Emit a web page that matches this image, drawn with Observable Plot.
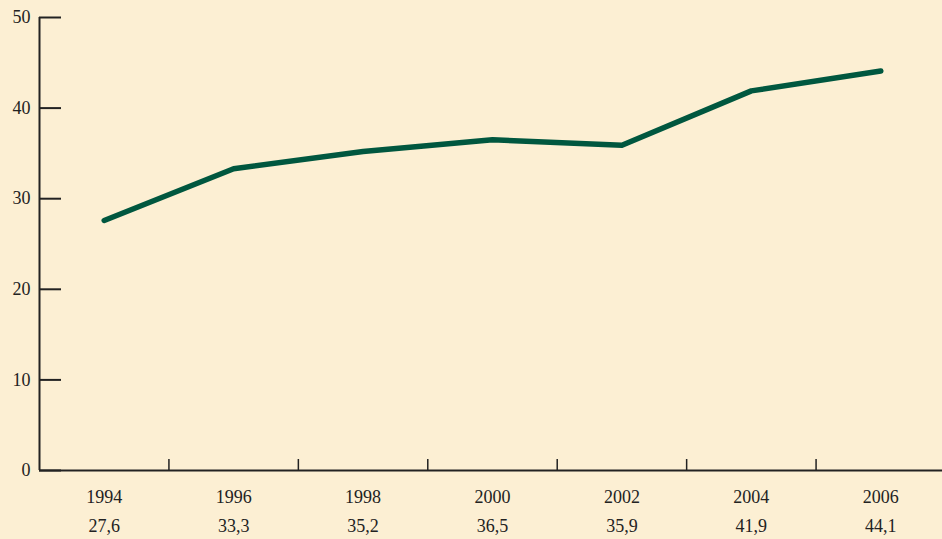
<!DOCTYPE html>
<html>
<head>
<meta charset="utf-8">
<script src="https://cdn.jsdelivr.net/npm/d3@7"></script>
<script src="https://cdn.jsdelivr.net/npm/@observablehq/plot@0.6"></script>
<style>
  body { margin: 0; background: #fcefd3; }
</style>
</head>
<body>
<div id="chart"></div>
<script>
// Años y valores de la serie
const years = [1994, 1996, 1998, 2000, 2002, 2004, 2006];
const values = [27.6, 33.3, 35.2, 36.5, 35.9, 41.9, 44.1];
const yTicks = [0, 10, 20, 30, 40, 50];
const xSepTicks = [1995, 1997, 1999, 2001, 2003, 2005];

const data = years.map((y, i) => ({year: y, value: values[i]}));
const fmt = v => v.toFixed(1).replace(".", ",");

let chart = Plot.plot({
  width: 942,
  height: 539,
  marginTop: 17,
  marginBottom: 69,
  marginLeft: 39,
  marginRight: 0,
  style: {background: "#fcefd3", fontFamily: "Liberation Serif, serif", fontSize: "18px", color: "#222"},
  x: {domain: [1993, 2007], range: [39, 945], axis: null},
  y: {domain: [0, 50], axis: null},
  marks: [
    // eje Y: línea, marcas hacia dentro y etiquetas
    Plot.ruleX([1993], {stroke: "#222", strokeWidth: 2}),
    Plot.axisY(yTicks, {tickSize: -22, text: null, label: null, stroke: "#222", strokeWidth: 2}),
    Plot.axisY(yTicks, {tickSize: 0, tickPadding: 9, label: null, fontSize: 18, fill: "#222"}),
    // eje X
    Plot.ruleY([0], {stroke: "#222", strokeWidth: 2}),
    Plot.axisX(xSepTicks, {tickSize: -11, text: null, label: null, stroke: "#222", strokeWidth: 1.5}),
    Plot.axisX(years, {tickSize: 0, tickPadding: 20, label: null, tickFormat: d => String(d), fontSize: 18, fill: "#222"}),
    Plot.text(data, {x: "year", text: d => fmt(d.value), frameAnchor: "bottom", dy: 61, fontSize: 18, fill: "#222"}),
    // serie
    Plot.line(data, {x: "year", y: "value", stroke: "#00573f", strokeWidth: 5.5, strokeLinecap: "round", strokeLinejoin: "round"})
  ]
});

d3.select('#chart').append(() => chart);
</script>
</body>
</html>
